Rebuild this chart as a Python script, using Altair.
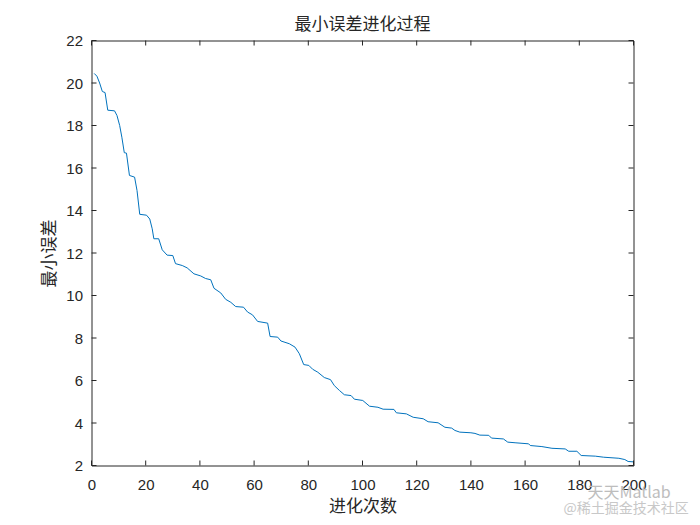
import altair as alt
import pandas as pd

# generation (x) and minimum error (y)
gen = [1, 2, 3, 4, 5, 6, 8.5, 9.4, 10.4, 11.2, 12.1, 12.9, 14, 15.9, 16.8, 17.8,
       20.3, 21.5, 22.4, 23, 24.8, 26.1, 27.9, 30, 31, 33.5, 35.3, 37.8, 40.3,
       42.1, 44, 45.2, 47.7, 49.5, 51.4, 53.2, 56.1, 57.6, 59.4, 61.3, 65, 65.9,
       68.7, 69.9, 73, 75.1, 76.7, 78.3, 80.2, 81.6, 83.5, 85.9, 88.2, 89.6,
       91.5, 93.3, 95.8, 97, 100.1, 102.6, 105.7, 107.6, 111.6, 112.5, 116.2,
       118.7, 122.4, 124.2, 127.9, 130.4, 132.9, 134.1, 135.9, 140, 141.5, 143.3,
       146.6, 147.6, 152, 153.6, 156.3, 161.3, 161.9, 166.2, 169.9, 174.8, 176.1,
       179.1, 180.7, 185.9, 189, 194.6, 196.8, 198, 200]
err = [20.45, 20.32, 20.0, 19.6, 19.55, 18.72, 18.69, 18.47, 18.0, 17.45, 16.72,
       16.7, 15.65, 15.57, 14.94, 13.82, 13.78, 13.6, 13.14, 12.67, 12.67, 12.15,
       11.9, 11.88, 11.5, 11.41, 11.3, 11.02, 10.92, 10.8, 10.74, 10.34, 10.12,
       9.82, 9.68, 9.48, 9.45, 9.22, 9.09, 8.78, 8.7, 8.07, 8.04, 7.86, 7.73,
       7.57, 7.26, 6.75, 6.71, 6.53, 6.39, 6.14, 6.04, 5.76, 5.53, 5.33, 5.29,
       5.12, 5.06, 4.79, 4.74, 4.65, 4.64, 4.48, 4.43, 4.27, 4.2, 4.06, 4.01,
       3.8, 3.76, 3.65, 3.57, 3.54, 3.51, 3.43, 3.42, 3.29, 3.25, 3.1, 3.07,
       3.02, 2.94, 2.89, 2.81, 2.78, 2.67, 2.67, 2.47, 2.44, 2.39, 2.34, 2.28,
       2.19, 2.17]

x_ticks = [0, 20, 40, 60, 80, 100, 120, 140, 160, 180, 200]
y_ticks = [2, 4, 6, 8, 10, 12, 14, 16, 18, 20, 22]

title_text = "最小误差进化过程"
x_title = "进化次数"
y_title = "最小误差"
watermark1 = "天天Matlab"
watermark2 = "@稀土掘金技术社区"

W, H = 542, 425
AX = "#262626"
CJK = "Noto Sans CJK SC"
NUM = "Liberation Sans"

df = pd.DataFrame({"gen": gen, "err": err})
xt = pd.DataFrame({"t": x_ticks})
yt = pd.DataFrame({"t": y_ticks})

xs = alt.Scale(domain=[0, 200], nice=False, zero=False)
ys = alt.Scale(domain=[2, 22], nice=False, zero=False)

line = alt.Chart(df).mark_line(color="#0072BD", strokeWidth=1, clip=True).encode(
    x=alt.X("gen:Q", scale=xs, axis=alt.Axis(
        values=x_ticks, ticks=False, domain=False, grid=False,
        labelFont=NUM, labelFontSize=15, labelColor=AX, labelPadding=12,
        labelAlign="center", labelFlush=False, labelOverlap=False,
        title=x_title, titleFont=CJK, titleFontSize=17, titleFontWeight="normal",
        titleColor=AX, titleX=W / 2, titleY=41, titleBaseline="middle")),
    y=alt.Y("err:Q", scale=ys, axis=alt.Axis(
        values=y_ticks, ticks=False, domain=False, grid=False,
        labelFont=NUM, labelFontSize=15, labelColor=AX, labelPadding=9,
        labelFlush=False, labelOverlap=False,
        title=y_title, titleFont=CJK, titleFontSize=17, titleFontWeight="normal",
        titleColor=AX, titleX=-42, titleY=H / 2, titleBaseline="middle",
        titleAngle=-90)),
)

tick_len = 5
xb = alt.Chart(xt).mark_rule(color=AX, strokeWidth=1).encode(
    x=alt.X("t:Q", scale=xs), y=alt.value(H), y2=alt.value(H - tick_len))
xtop = alt.Chart(xt).mark_rule(color=AX, strokeWidth=1).encode(
    x=alt.X("t:Q", scale=xs), y=alt.value(0), y2=alt.value(tick_len))
yl = alt.Chart(yt).mark_rule(color=AX, strokeWidth=1).encode(
    y=alt.Y("t:Q", scale=ys), x=alt.value(0), x2=alt.value(tick_len))
yr = alt.Chart(yt).mark_rule(color=AX, strokeWidth=1).encode(
    y=alt.Y("t:Q", scale=ys), x=alt.value(W), x2=alt.value(W - tick_len))

wm1 = alt.Chart(pd.DataFrame({"s": [watermark1]})).mark_text(
    font=CJK, fontSize=16, color="#bdbdbd", align="left", baseline="middle"
).encode(text="s:N", x=alt.value(496), y=alt.value(452))
wm2 = alt.Chart(pd.DataFrame({"s": [watermark2]})).mark_text(
    font=CJK, fontSize=14, color="#c8c8c8", align="left", baseline="middle"
).encode(text="s:N", x=alt.value(472), y=alt.value(468))

chart = alt.layer(line, xb, xtop, yl, yr, wm1, wm2).properties(
    width=W, height=H,
    title=alt.TitleParams(title_text, font=CJK, fontSize=17, fontWeight="normal",
                          color=AX, anchor="middle", offset=0),
    padding={"left": 83.5, "top": 32.5, "right": 58.5, "bottom": 51.5},
    autosize=alt.AutoSizeParams(type="none"),
).configure_view(stroke=AX, strokeWidth=1)

chart.save("out.html", embed_options={"renderer": "svg", "actions": False})
